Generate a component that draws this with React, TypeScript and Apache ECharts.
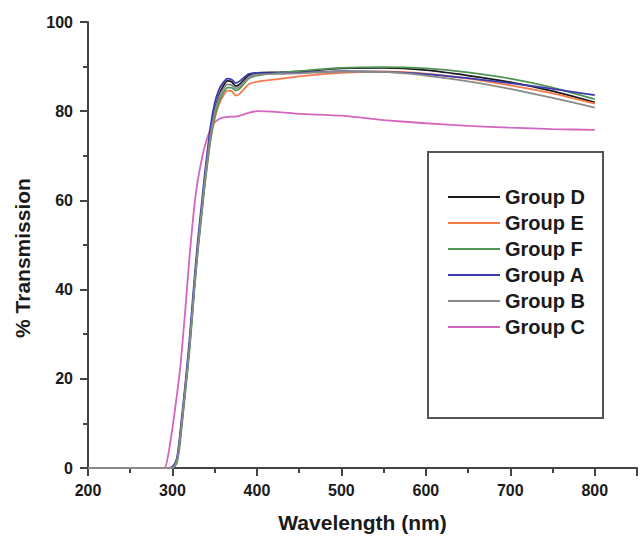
import React, { useEffect, useRef } from "react";
import * as echarts from "echarts";

const wavelengths = [200, 290, 295, 300, 305, 308, 310, 315, 320, 326, 330, 335, 338, 345, 350, 355, 360, 365, 370, 375, 380, 390, 400, 425, 450, 500, 550, 600, 650, 700, 750, 800];

const groupD = [0, 0, 0, 0, 1.5, 5, 8.5, 17.5, 27, 41, 49.5, 58.5, 64, 75, 80.3, 83.5, 85.6, 86.8, 86.6, 85.6, 86.1, 88, 88.6, 88.7, 88.9, 89.6, 89.7, 89.2, 88, 86.5, 84.5, 82];
const groupE = [0, 0, 0, 0, 1.5, 5, 8.5, 17.5, 27, 41, 49.5, 58.5, 63.5, 73.5, 78.3, 81.5, 83.4, 84.6, 84.5, 83.5, 84, 86, 86.6, 87.2, 87.8, 88.6, 88.9, 88.4, 87.3, 85.8, 84, 81.7];
const groupF = [0, 0, 0, 0, 1, 4, 7.5, 16.5, 26, 40, 48.5, 57.5, 63, 73.5, 78.8, 82, 84.1, 85.3, 85.3, 84.6, 85.1, 87.3, 88, 88.6, 89, 89.7, 89.9, 89.6, 88.7, 87.3, 85.3, 82.7];
const groupA = [0, 0, 0, 0.3, 2, 6, 9.5, 18.5, 28.5, 42.5, 51, 60, 65.5, 76.5, 81.8, 84.8, 86.4, 87.3, 87.1, 86.3, 86.8, 88.3, 88.6, 88.5, 88.6, 89, 88.8, 88.3, 87.4, 86.3, 85, 83.6];
const groupB = [0, 0, 0, 0, 1.5, 5, 8.5, 17.5, 27, 41, 49.5, 58.5, 64, 74.5, 79.8, 83, 84.9, 86, 85.9, 85.1, 85.6, 87.5, 88.2, 88.4, 88.5, 88.9, 88.8, 88, 86.7, 85, 83, 80.8];
const groupC = [0, 0, 3, 9, 16, 20.5, 24, 35, 47, 59, 64.5, 69.5, 72, 76, 77.5, 78.2, 78.6, 78.7, 78.8, 78.8, 79, 79.6, 80, 79.8, 79.4, 79, 78, 77.3, 76.7, 76.3, 76, 75.8];

const seriesNames = ["Group D", "Group E", "Group F", "Group A", "Group B", "Group C"];
const seriesValues = [groupD, groupE, groupF, groupA, groupB, groupC];
const seriesColors = ["#1a1a1a", "#f47a4c", "#4f9355", "#3c3cae", "#8a8a8a", "#d466be"];

const xTitle = "Wavelength (nm)";
const yTitle = "% Transmission";

export default function App() {
  const ref = useRef<HTMLDivElement>(null);
  useEffect(() => {
    document.body.style.margin = "0";
    const chart = echarts.init(ref.current!, null, { renderer: "svg" });
    const font = "Liberation Sans, Arial, sans-serif";
    chart.setOption({
      animation: false,
      backgroundColor: "#ffffff",
      grid: { left: 88, top: 22, right: 0, bottom: 69, containLabel: false },
      xAxis: {
        type: "value",
        min: 200,
        max: 850,
        interval: 100,
        name: xTitle,
        nameLocation: "middle",
        nameGap: 44,
        nameTextStyle: { fontFamily: font, fontWeight: "bold", fontSize: 21, color: "#1a1a1a" },
        axisLine: { show: true, onZero: false, lineStyle: { color: "#444", width: 2 } },
        axisTick: { show: true, inside: false, length: 8, lineStyle: { color: "#444", width: 2 } },
        minorTick: { show: true, splitNumber: 2, length: 5, lineStyle: { color: "#444", width: 2 } },
        splitLine: { show: false },
        axisLabel: {
          margin: 14,
          fontFamily: font,
          fontWeight: "bold",
          fontSize: 16,
          color: "#1a1a1a",
          formatter: (v: number) => (v <= 800 ? String(v) : ""),
        },
      },
      yAxis: {
        type: "value",
        min: 0,
        max: 100,
        interval: 20,
        axisLine: { show: true, onZero: false, lineStyle: { color: "#444", width: 2 } },
        axisTick: { show: true, inside: false, length: 8, lineStyle: { color: "#444", width: 2 } },
        minorTick: { show: true, splitNumber: 2, length: 5, lineStyle: { color: "#444", width: 2 } },
        splitLine: { show: false },
        axisLabel: { margin: 15, fontFamily: font, fontWeight: "bold", fontSize: 16, color: "#1a1a1a" },
      },
      legend: {
        show: true,
        orient: "vertical",
        left: 443,
        top: 179,
        itemWidth: 52,
        itemHeight: 2,
        itemGap: 0,
        icon: "rect",
        data: seriesNames,
        textStyle: { fontFamily: font, fontWeight: "bold", fontSize: 20, color: "#1a1a1a", lineHeight: 26, height: 26 },
      },
      graphic: [
        {
          type: "rect",
          shape: { x: 428, y: 152, width: 175, height: 266 },
          style: { fill: "none", stroke: "#555", lineWidth: 2 },
          z: 10,
        },
        {
          type: "text",
          x: 22,
          y: 258,
          rotation: Math.PI / 2,
          style: {
            text: yTitle,
            fontFamily: font,
            fontWeight: "bold",
            fontSize: 21,
            fill: "#1a1a1a",
            textAlign: "center",
            textVerticalAlign: "middle",
          },
        },
      ],
      series: seriesNames.map((name, i) => ({
        name,
        type: "line",
        data: wavelengths.map((w, j) => [w, seriesValues[i][j]]),
        showSymbol: false,
        symbol: "none",
        smooth: 0.2,
        lineStyle: { color: seriesColors[i], width: 1.8 },
        itemStyle: { color: seriesColors[i] },
        z: i === 5 ? 1 : 2,
      })),
    });
    return () => chart.dispose();
  }, []);
  return <div ref={ref} style={{ width: 640, height: 538 }} />;
}
